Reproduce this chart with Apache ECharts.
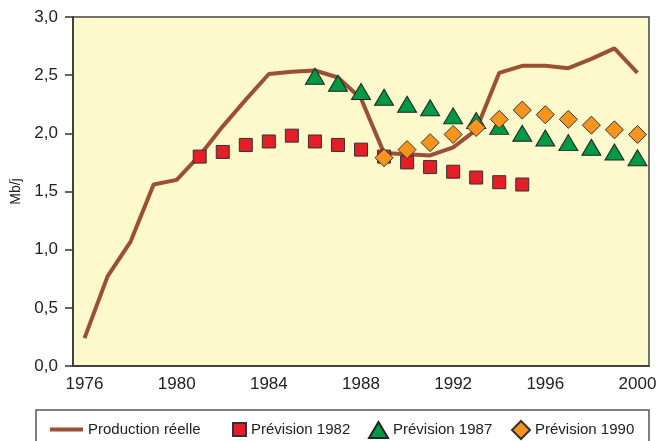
<!DOCTYPE html>
<html>
<head>
<meta charset="utf-8">
<script src="https://cdn.jsdelivr.net/npm/echarts@6/dist/echarts.min.js"></script>
<style>
  html, body { margin: 0; padding: 0; background: #fff; }
  #chart { width: 659px; height: 441px; }
</style>
</head>
<body>
<div id="chart"></div>
<script>
  // years on the x axis
  var years = ['1976', '1977', '1978', '1979', '1980', '1981', '1982', '1983', '1984',
    '1985', '1986', '1987', '1988', '1989', '1990', '1991', '1992', '1993', '1994',
    '1995', '1996', '1997', '1998', '1999', '2000']

  // Mb/j
  var productionReelle = [0.24, 0.77, 1.07, 1.56, 1.60, 1.81, 2.06, 2.29, 2.51, 2.53,
    2.54, 2.48, 2.30, 1.83, 1.82, 1.81, 1.88, 2.03, 2.52, 2.58, 2.58, 2.56, 2.64, 2.73, 2.52]

  var prevision1982 = [null, null, null, null, null, 1.80, 1.84, 1.90, 1.93, 1.98,
    1.93, 1.90, 1.86, 1.80, 1.75, 1.71, 1.67, 1.62, 1.58, 1.56, null, null, null, null, null]

  var prevision1987 = [null, null, null, null, null, null, null, null, null, null,
    2.49, 2.43, 2.36, 2.31, 2.25, 2.22, 2.15, 2.11, 2.06, 2.00, 1.96, 1.92, 1.88, 1.84, 1.79]

  var prevision1990 = [null, null, null, null, null, null, null, null, null, null,
    null, null, null, 1.79, 1.86, 1.92, 1.99, 2.05, 2.12, 2.20, 2.16, 2.12, 2.07, 2.03, 1.99]

  var yTicks = [0, 0.5, 1, 1.5, 2, 2.5, 3]

  var font = 'Liberation Sans, Arial, Helvetica, sans-serif'

  function gaps(arr) {
    return arr.map(function (v) { return v === null ? '-' : v })
  }

  // one legend per item so each icon can have its own size
  function legendAt(item, left, top, w, h) {
    return {
      data: [item],
      left: left,
      top: top,
      padding: 0,
      itemWidth: w,
      itemHeight: h,
      symbolKeepAspect: false,
      selectedMode: false,
      textStyle: { fontFamily: font, fontSize: 15, color: '#222' }
    }
  }

  var chart = echarts.init(document.getElementById('chart'))
  chart.setOption({
    animation: false,
    backgroundColor: '#fff',
    grid: {
      left: 73,
      top: 17,
      right: 10,
      bottom: 75,
      outerBoundsMode: 'none',
      containLabel: false,
      show: true,
      backgroundColor: '#FEF9CD',
      borderColor: '#444',
      borderWidth: 1.5
    },
    graphic: [{
      type: 'rect',
      shape: { x: 36, y: 410, width: 613, height: 50 },
      style: { fill: '#fff', stroke: '#555', lineWidth: 1.5 },
      z: -1
    }],
    legend: [
      legendAt({ name: 'Production réelle', icon: 'rect' }, 50, 422, 33, 4),
      legendAt('Prévision 1982', 232, 422, 13, 13),
      legendAt('Prévision 1987', 368, 421, 19, 16),
      legendAt('Prévision 1990', 511, 420, 18, 18)
    ],
    xAxis: {
      type: 'category',
      data: years,
      boundaryGap: true,
      axisLine: { lineStyle: { color: '#333', width: 1.5 } },
      axisTick: { interval: 0, length: 7, lineStyle: { color: '#333', width: 1.5 } },
      axisLabel: { interval: 3, margin: 10, fontFamily: font, fontSize: 17, color: '#222' },
      splitLine: { show: false }
    },
    yAxis: {
      type: 'value',
      min: yTicks[0],
      max: yTicks[yTicks.length - 1],
      interval: 0.5,
      name: 'Mb/j',
      nameLocation: 'middle',
      nameGap: 50,
      nameTextStyle: { fontFamily: font, fontSize: 14, color: '#222' },
      axisLine: { show: true, lineStyle: { color: '#333', width: 1.5 } },
      axisTick: { show: true, length: 8, lineStyle: { color: '#333', width: 1.5 } },
      axisLabel: {
        margin: 15,
        fontFamily: font,
        fontSize: 17,
        color: '#222',
        formatter: function (v) { return v.toFixed(1).replace('.', ',') }
      },
      splitLine: { show: false }
    },
    series: [
      {
        name: 'Production réelle',
        type: 'line',
        data: productionReelle,
        symbol: 'none',
        z: 2,
        itemStyle: { color: '#9B4F33' },
        lineStyle: { color: '#9B4F33', width: 4 }
      },
      {
        name: 'Prévision 1982',
        type: 'scatter',
        data: gaps(prevision1982),
        symbol: 'rect',
        symbolSize: 13,
        z: 3,
        itemStyle: { color: '#E31E26', borderColor: '#333', borderWidth: 1, opacity: 1 }
      },
      {
        name: 'Prévision 1987',
        type: 'scatter',
        data: gaps(prevision1987),
        symbol: 'triangle',
        symbolSize: [19, 16],
        z: 4,
        itemStyle: { color: '#009A46', borderColor: '#222', borderWidth: 1, opacity: 1 }
      },
      {
        name: 'Prévision 1990',
        type: 'scatter',
        data: gaps(prevision1990),
        symbol: 'diamond',
        symbolSize: 18,
        z: 5,
        itemStyle: { color: '#F7941D', borderColor: '#333', borderWidth: 1, opacity: 1 }
      }
    ]
  })
</script>
</body>
</html>
